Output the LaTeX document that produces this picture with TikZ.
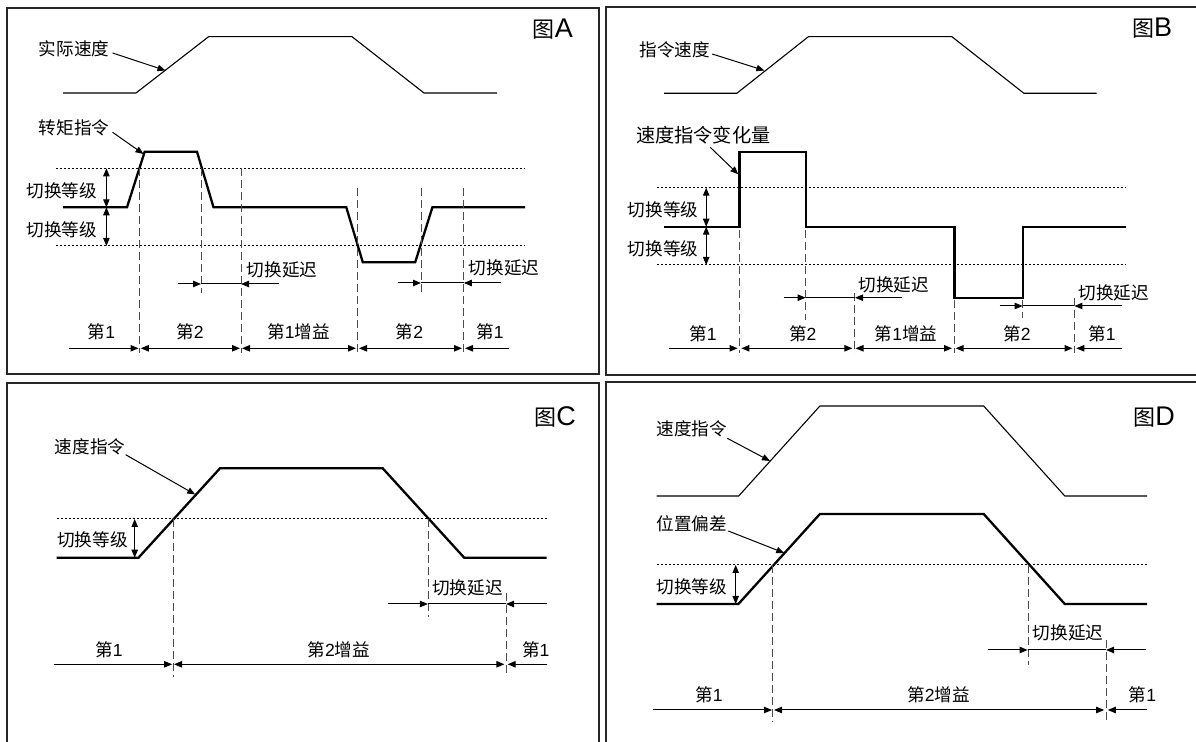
\documentclass[tikz,border=0pt]{standalone}
\usepackage{fontspec}
\setmainfont{Liberation Sans}
\newfontfamily\cjk{Noto Sans CJK SC}
\usetikzlibrary{arrows.meta}
\newcommand\zh[1]{{\cjk #1}}
\newcommand\ttlbig[1]{{\fontsize{13.5pt}{14pt}\selectfont #1}}
\tikzset{
  panel/.style={draw=black!85, line width=0.8pt},
  curvethin/.style={line width=0.55pt},
  curvethick/.style={line width=1.15pt},
  levelline/.style={line width=0.5pt, dash pattern=on 1pt off 1pt},
  guide/.style={line width=0.45pt, draw=black!70, dash pattern=on 4pt off 2pt},
  ptr/.style={line width=0.5pt, -{Triangle[length=4pt,width=3.2pt]}},
  dbl/.style={line width=0.5pt, {Triangle[length=4pt,width=3.2pt]}-{Triangle[length=4pt,width=3.2pt]}},
  lbl/.style={inner sep=0pt, font=\fontsize{8.8pt}{9pt}\selectfont},
  lblbig/.style={inner sep=0pt, font=\fontsize{9.6pt}{10pt}\selectfont},
  ttl/.style={inner sep=0pt, anchor=base, font=\fontsize{11pt}{12pt}\selectfont},
}
\begin{document}
\begin{tikzpicture}[x=0.5pt,y=-0.5pt]
\useasboundingbox (0,0) rectangle (1196,742);
\fill[white] (0,0) rectangle (1196,742);
\clip (0,0) rectangle (1196,742);

% ================= Panel A =================
\draw[panel] (7,8) rectangle (599,374);
\node[ttl] (tA) at (553,38) {\zh{图}\ttlbig{A}};
\draw[curvethin] (63,93) -- (136,93) -- (208.6,36.7) -- (352,36.7) -- (424,93) -- (497,93);
\node[lbl] (sa) at (74,49) {\zh{实际速度}};
\coordinate (sat) at (165.5,70.5);
\draw[ptr] ([shift={(3,4)}]sa.east) -- (sat);
\node[lbl] (tqa) at (74,128.3) {\zh{转矩指令}};
\coordinate (tqat) at (143.5,154);
\draw[ptr] ([shift={(3,4)}]tqa.east) -- (tqat);
\draw[curvethick] (63,207.3) -- (127,207.3) -- (144.7,151.7) -- (197,151.7) -- (213.5,207.3) -- (346.3,207.3) -- (362.8,262.3) -- (415.2,262.3) -- (432.4,207.3) -- (525,207.3);
\draw[levelline] (55.5,168.3) -- (525,168.3);
\draw[levelline] (55.5,246) -- (525,246);
\draw[dbl] (106.4,168.3) -- (106.4,207.3);
\draw[dbl] (106.4,207.3) -- (106.4,246);
\node[lbl] (la1) at (62,190.7) {\zh{切换等级}};
\node[lbl] (la2) at (62,230) {\zh{切换等级}};
\draw[guide] (139.7,168) -- (139.7,353);
\draw[guide] (201,168) -- (201,293);
\draw[guide] (241,168) -- (241,353);
\draw[guide] (357.8,188) -- (357.8,353);
\draw[guide] (421,188) -- (421,293);
\draw[guide] (463.8,188) -- (463.8,353);
\node[lbl] (da1) at (282,270) {\zh{切换延迟}};
\node[lbl] (da2) at (504,268) {\zh{切换延迟}};
\draw[ptr] (178,284) -- (201,284);
\draw[line width=0.5pt] (201,284) -- (241,284);
\draw[ptr] (279,284) -- (241,284);
\draw[ptr] (398,283) -- (421,283);
\draw[line width=0.5pt] (421,283) -- (463.8,283);
\draw[ptr] (500.6,283) -- (463.8,283);
\node[lbl] (ga1) at (101.4,331.7) {\zh{第}1};
\node[lbl] (ga2) at (190,331.7) {\zh{第}2};
\node[lbl] (ga3) at (298.5,331.7) {\zh{第}1\zh{增益}};
\node[lbl] (ga4) at (409.5,331.7) {\zh{第}2};
\node[lbl] (ga5) at (490,331.7) {\zh{第}1};
\draw[ptr] (68.9,348.3) -- (138.5,348.3);
\draw[dbl] (140.8,348.3) -- (240,348.3);
\draw[dbl] (242,348.3) -- (356,348.3);
\draw[dbl] (359,348.3) -- (462,348.3);
\draw[ptr] (509,348.3) -- (465,348.3);

% ================= Panel B =================
\draw[panel] (606,7) rectangle (1210,375);
\node[ttl] (tB) at (1152,37) {\zh{图}\ttlbig{B}};
\draw[curvethin] (664,93.3) -- (736.8,93.3) -- (808.4,36.7) -- (951.9,36.7) -- (1023.9,93.3) -- (1096.6,93.3);
\node[lbl] (sb) at (674.6,50) {\zh{指令速度}};
\coordinate (sbt) at (764.4,70.5);
\draw[ptr] ([shift={(2,4)}]sb.east) -- (sbt);
\node[lblbig] (vb) at (703.3,135) {\zh{速度指令变化量}};
\coordinate (vbt) at (738.3,174.3);
\draw[ptr] ([shift={(7,3)}]vb.south) -- (vbt);
\draw[curvethick] (664,226.7) -- (739.5,226.7) -- (739.5,151.7) -- (805.7,151.7) -- (805.7,226.7) -- (954.6,226.7) -- (954.6,297.7) -- (1022.7,297.7) -- (1022.7,226.7) -- (1126,226.7);
\draw[levelline] (656.5,187.7) -- (1126,187.7);
\draw[levelline] (656.5,265) -- (1126,265);
\draw[dbl] (706.2,187.7) -- (706.2,226.7);
\draw[dbl] (706.2,226.7) -- (706.2,265);
\node[lbl] (lb1) at (663,210) {\zh{切换等级}};
\node[lbl] (lb2) at (663,248.3) {\zh{切换等级}};
\draw[guide] (739.5,230) -- (739.5,353);
\draw[guide] (805.7,230) -- (805.7,320);
\draw[guide] (854.3,293) -- (854.3,353);
\draw[guide] (954.6,300) -- (954.6,353);
\draw[guide] (1022.7,300) -- (1022.7,318);
\draw[guide] (1074.4,298) -- (1074.4,353);
\node[lbl] (db1) at (893.6,285) {\zh{切换延迟}};
\node[lbl] (db2) at (1113.6,293.3) {\zh{切换延迟}};
\draw[ptr] (783.5,297.7) -- (805.7,297.7);
\draw[line width=0.5pt] (805.7,297.7) -- (855,297.7);
\draw[ptr] (902,297.7) -- (855,297.7);
\draw[ptr] (999.7,306) -- (1022.7,306);
\draw[line width=0.5pt] (1022.7,306) -- (1074.4,306);
\draw[ptr] (1122,306) -- (1074.4,306);
\node[lbl] (gb1) at (703,333.3) {\zh{第}1};
\node[lbl] (gb2) at (802.7,333.3) {\zh{第}2};
\node[lbl] (gb3) at (906,333.3) {\zh{第}1\zh{增益}};
\node[lbl] (gb4) at (1017,333.3) {\zh{第}2};
\node[lbl] (gb5) at (1102,333.3) {\zh{第}1};
\draw[ptr] (668.7,348.3) -- (737.6,348.3);
\draw[dbl] (741.4,348.3) -- (852.4,348.3);
\draw[dbl] (855.5,348.3) -- (952,348.3);
\draw[dbl] (955.7,348.3) -- (1072.5,348.3);
\draw[ptr] (1122,348.3) -- (1076.3,348.3);

% ================= Panel C =================
\draw[panel] (7,383) rectangle (599,760);
\node[ttl] (tC) at (555,425.5) {\zh{图}\ttlbig{C}};
\draw[curvethick] (56.6,557.7) -- (138.5,557.7) -- (220,468.3) -- (382.7,468.3) -- (464.2,557.7) -- (546.5,557.7);
\node[lbl] (sc) at (90,446.7) {\zh{速度指令}};
\coordinate (sct) at (195.2,494.5);
\draw[ptr] ([shift={(0,8)}]sc.east) -- (sct);
\draw[levelline] (56.6,519) -- (546.5,519);
\draw[dbl] (134.7,519) -- (134.7,557.7);
\node[lbl] (lc1) at (92.4,540) {\zh{切换等级}};
\draw[guide] (173,519) -- (173,676.7);
\draw[guide] (428.6,519) -- (428.6,616.7);
\draw[guide] (506,593) -- (506,676.7);
\node[lbl] (dc1) at (467.4,588.3) {\zh{切换延迟}};
\draw[ptr] (388.4,604) -- (427.9,604);
\draw[line width=0.5pt] (427.9,604) -- (506,604);
\draw[ptr] (546.5,604) -- (506,604);
\node[lbl] (gc1) at (109,650) {\zh{第}1};
\node[lbl] (gc2) at (338.7,650) {\zh{第}2\zh{增益}};
\node[lbl] (gc3) at (535.8,650) {\zh{第}1};
\draw[ptr] (53.6,664.3) -- (172.2,664.3);
\draw[dbl] (174,664.3) -- (504.4,664.3);
\draw[ptr] (547.3,664.3) -- (507.6,664.3);

% ================= Panel D =================
\draw[panel] (606,382) rectangle (1210,760);
\node[ttl] (tD) at (1154,425.5) {\zh{图}\ttlbig{D}};
\draw[curvethin] (656.5,496) -- (738.7,496) -- (819.9,406) -- (983.7,406) -- (1064.8,496) -- (1147,496);
\node[lbl] (sd) at (691.7,429.3) {\zh{速度指令}};
\coordinate (sdt) at (770,461);
\draw[ptr] ([shift={(0,9)}]sd.east) -- (sdt);
\node[lbl] (pd) at (691.7,524) {\zh{位置偏差}};
\coordinate (pdt) at (784.3,553);
\draw[ptr] ([shift={(1,7)}]pd.east) -- (pdt);
\draw[curvethick] (656.5,604) -- (738.4,604) -- (819.9,514) -- (983.7,514) -- (1064.8,604) -- (1147,604);
\draw[levelline] (656.5,565) -- (1147,565);
\draw[dbl] (735.7,565) -- (735.7,604);
\node[lbl] (ld1) at (691.7,586.7) {\zh{切换等级}};
\draw[guide] (772.8,565) -- (772.8,721.7);
\draw[guide] (1028.5,565) -- (1028.5,665);
\draw[guide] (1106,640) -- (1106,721.7);
\node[lbl] (dd1) at (1068,633.3) {\zh{切换延迟}};
\draw[ptr] (988.3,650) -- (1027.7,650);
\draw[line width=0.5pt] (1027.7,650) -- (1106,650);
\draw[ptr] (1146.3,650) -- (1106,650);
\node[lbl] (gd1) at (709,695) {\zh{第}1};
\node[lbl] (gd2) at (938.5,695) {\zh{第}2\zh{增益}};
\node[lbl] (gd3) at (1142.5,695) {\zh{第}1};
\draw[ptr] (653.4,710) -- (772,710);
\draw[dbl] (774,710) -- (1104.2,710);
\draw[ptr] (1147,710) -- (1107.8,710);
\end{tikzpicture}
\end{document}
